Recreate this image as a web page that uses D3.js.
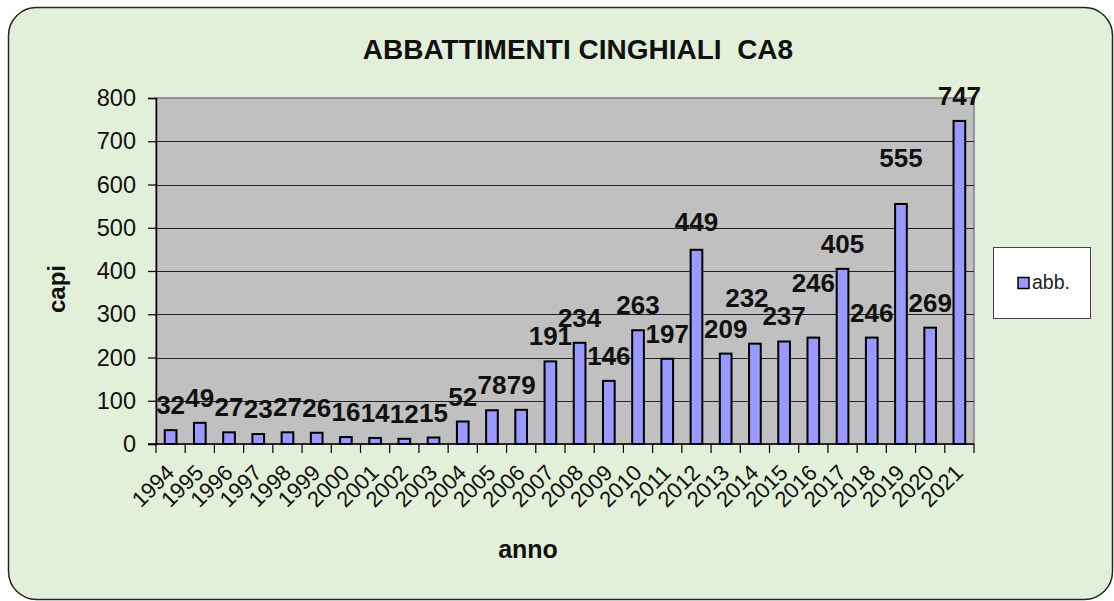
<!DOCTYPE html>
<html>
<head>
<meta charset="utf-8">
<script src="https://cdn.jsdelivr.net/npm/d3@7"></script>
<style>
	body { margin: 0; background: #fff; }
	svg text { font-family: "Liberation Sans", Arial, sans-serif; }
</style>
</head>
<body>
<svg id="chart" width="1114" height="601"></svg>
<script>
// chart data
var years = ['1994', '1995', '1996', '1997', '1998', '1999', '2000', '2001', '2002', '2003',
	'2004', '2005', '2006', '2007', '2008', '2009', '2010', '2011', '2012', '2013',
	'2014', '2015', '2016', '2017', '2018', '2019', '2020', '2021'];
var abb = [32, 49, 27, 23, 27, 26, 16, 14, 12, 15,
	52, 78, 79, 191, 234, 146, 263, 197, 449, 209,
	232, 237, 246, 405, 246, 555, 269, 747];
var yTicks = [0, 100, 200, 300, 400, 500, 600, 700, 800];
var seriesName = 'abb.';
var title = 'ABBATTIMENTI CINGHIALI  CA8';
var yTitle = 'capi';
var xTitle = 'anno';

// some labels were moved by hand in the original, to keep them apart
var labelNudge = {
	'2012': {dx: 0, dy: -3},
	'2014': {dx: -8, dy: -21},
	'2016': {dx: 0, dy: -30},
	'2019': {dx: 0, dy: -21}
};

var svg = d3.select('#chart');
var plot = {left: 156, right: 974, top: 98, bottom: 444};

// chart area
svg.append('rect')
	.attr('x', 8.5).attr('y', 7.5)
	.attr('width', 1104).attr('height', 592)
	.attr('rx', 28).attr('ry', 28)
	.attr('fill', '#e2efd9')
	.attr('stroke', '#262626')
	.attr('stroke-width', 1.5);

var x = d3.scaleBand()
	.domain(years)
	.range([plot.left, plot.right])
	.paddingInner(0.6)
	.paddingOuter(0.3);

var y = d3.scaleLinear()
	.domain([0, 800])
	.range([plot.bottom, plot.top]);

// plot area
svg.append('rect')
	.attr('x', plot.left).attr('y', plot.top)
	.attr('width', plot.right - plot.left)
	.attr('height', plot.bottom - plot.top)
	.attr('fill', '#c0c0c0')
	.attr('stroke', '#808080')
	.attr('stroke-width', 1.5);

// gridlines
svg.append('g')
	.selectAll('line')
	.data(yTicks.filter(function(t) { return t > 0 && t < 800; }))
	.enter().append('line')
	.attr('x1', plot.left).attr('x2', plot.right)
	.attr('y1', function(d) { return Math.round(y(d)) + 0.5; })
	.attr('y2', function(d) { return Math.round(y(d)) + 0.5; })
	.attr('stroke', '#222')
	.attr('stroke-width', 1);

// y axis
var yAxis = svg.append('g')
	.attr('transform', 'translate(' + plot.left + ',0)')
	.call(d3.axisLeft(y).tickValues(yTicks).tickSize(8).tickPadding(12));
yAxis.select('.domain').attr('stroke', '#000').attr('stroke-width', 1.5);
yAxis.selectAll('.tick line').attr('stroke', '#000').attr('stroke-width', 1.2);
yAxis.selectAll('.tick text')
	.attr('font-size', 23.5)
	.attr('fill', '#111')
	.style('font-family', '"Liberation Sans", Arial, sans-serif');

// bars
svg.append('g')
	.selectAll('rect')
	.data(abb)
	.enter().append('rect')
	.attr('x', function(d, i) { return x(years[i]); })
	.attr('y', function(d) { return y(d); })
	.attr('width', x.bandwidth())
	.attr('height', function(d) { return y(0) - y(d); })
	.attr('fill', '#9999ff')
	.attr('stroke', '#000')
	.attr('stroke-width', 2);

// x axis: ticks sit between the categories
var step = x.step();
var xa = svg.append('g');
xa.append('line')
	.attr('x1', plot.left - 8).attr('x2', plot.right)
	.attr('y1', plot.bottom).attr('y2', plot.bottom)
	.attr('stroke', '#000').attr('stroke-width', 1.5);
xa.selectAll('line.tk')
	.data(d3.range(years.length + 1))
	.enter().append('line')
	.attr('class', 'tk')
	.attr('x1', function(i) { return plot.left + i * step; })
	.attr('x2', function(i) { return plot.left + i * step; })
	.attr('y1', plot.bottom).attr('y2', plot.bottom + 9)
	.attr('stroke', '#000').attr('stroke-width', 1.2);
xa.selectAll('text')
	.data(years)
	.enter().append('text')
	.attr('transform', function(d) {
		return 'translate(' + (x(d) + x.bandwidth() / 2 + 5) + ',' + (plot.bottom + 30) + ') rotate(-45)';
	})
	.attr('text-anchor', 'end')
	.attr('font-size', 22)
	.attr('fill', '#111')
	.text(function(d) { return d; });

// data labels
svg.append('g')
	.selectAll('text')
	.data(abb)
	.enter().append('text')
	.attr('x', function(d, i) {
		var n = labelNudge[years[i]];
		return x(years[i]) + x.bandwidth() / 2 + (n ? n.dx : 0);
	})
	.attr('y', function(d, i) {
		var n = labelNudge[years[i]];
		return y(d) - 16 + (n ? n.dy : 0);
	})
	.attr('text-anchor', 'middle')
	.attr('font-size', 26)
	.attr('font-weight', 'bold')
	.attr('fill', '#111')
	.text(function(d) { return d; });

// titles
svg.append('text')
	.attr('x', 578).attr('y', 59)
	.attr('text-anchor', 'middle')
	.attr('font-size', 28)
	.attr('font-weight', 'bold')
	.style('white-space', 'pre')
	.attr('fill', '#111')
	.text(title);

svg.append('text')
	.attr('transform', 'translate(65,289) rotate(-90)')
	.attr('text-anchor', 'middle')
	.attr('font-size', 24)
	.attr('font-weight', 'bold')
	.attr('fill', '#111')
	.text(yTitle);

svg.append('text')
	.attr('x', 528).attr('y', 558)
	.attr('text-anchor', 'middle')
	.attr('font-size', 25)
	.attr('font-weight', 'bold')
	.attr('fill', '#111')
	.text(xTitle);

// legend
var lg = svg.append('g').attr('transform', 'translate(993,247)');
lg.append('rect')
	.attr('x', 0.5).attr('y', 0.5)
	.attr('width', 97).attr('height', 71)
	.attr('fill', '#fff')
	.attr('stroke', '#444')
	.attr('stroke-width', 1);
lg.append('rect')
	.attr('x', 25).attr('y', 30.5)
	.attr('width', 11).attr('height', 11)
	.attr('fill', '#9999ff')
	.attr('stroke', '#000')
	.attr('stroke-width', 1.5);
lg.append('text')
	.attr('x', 39).attr('y', 42)
	.attr('font-size', 19.5)
	.attr('fill', '#222')
	.text(seriesName);
</script>
</body>
</html>
